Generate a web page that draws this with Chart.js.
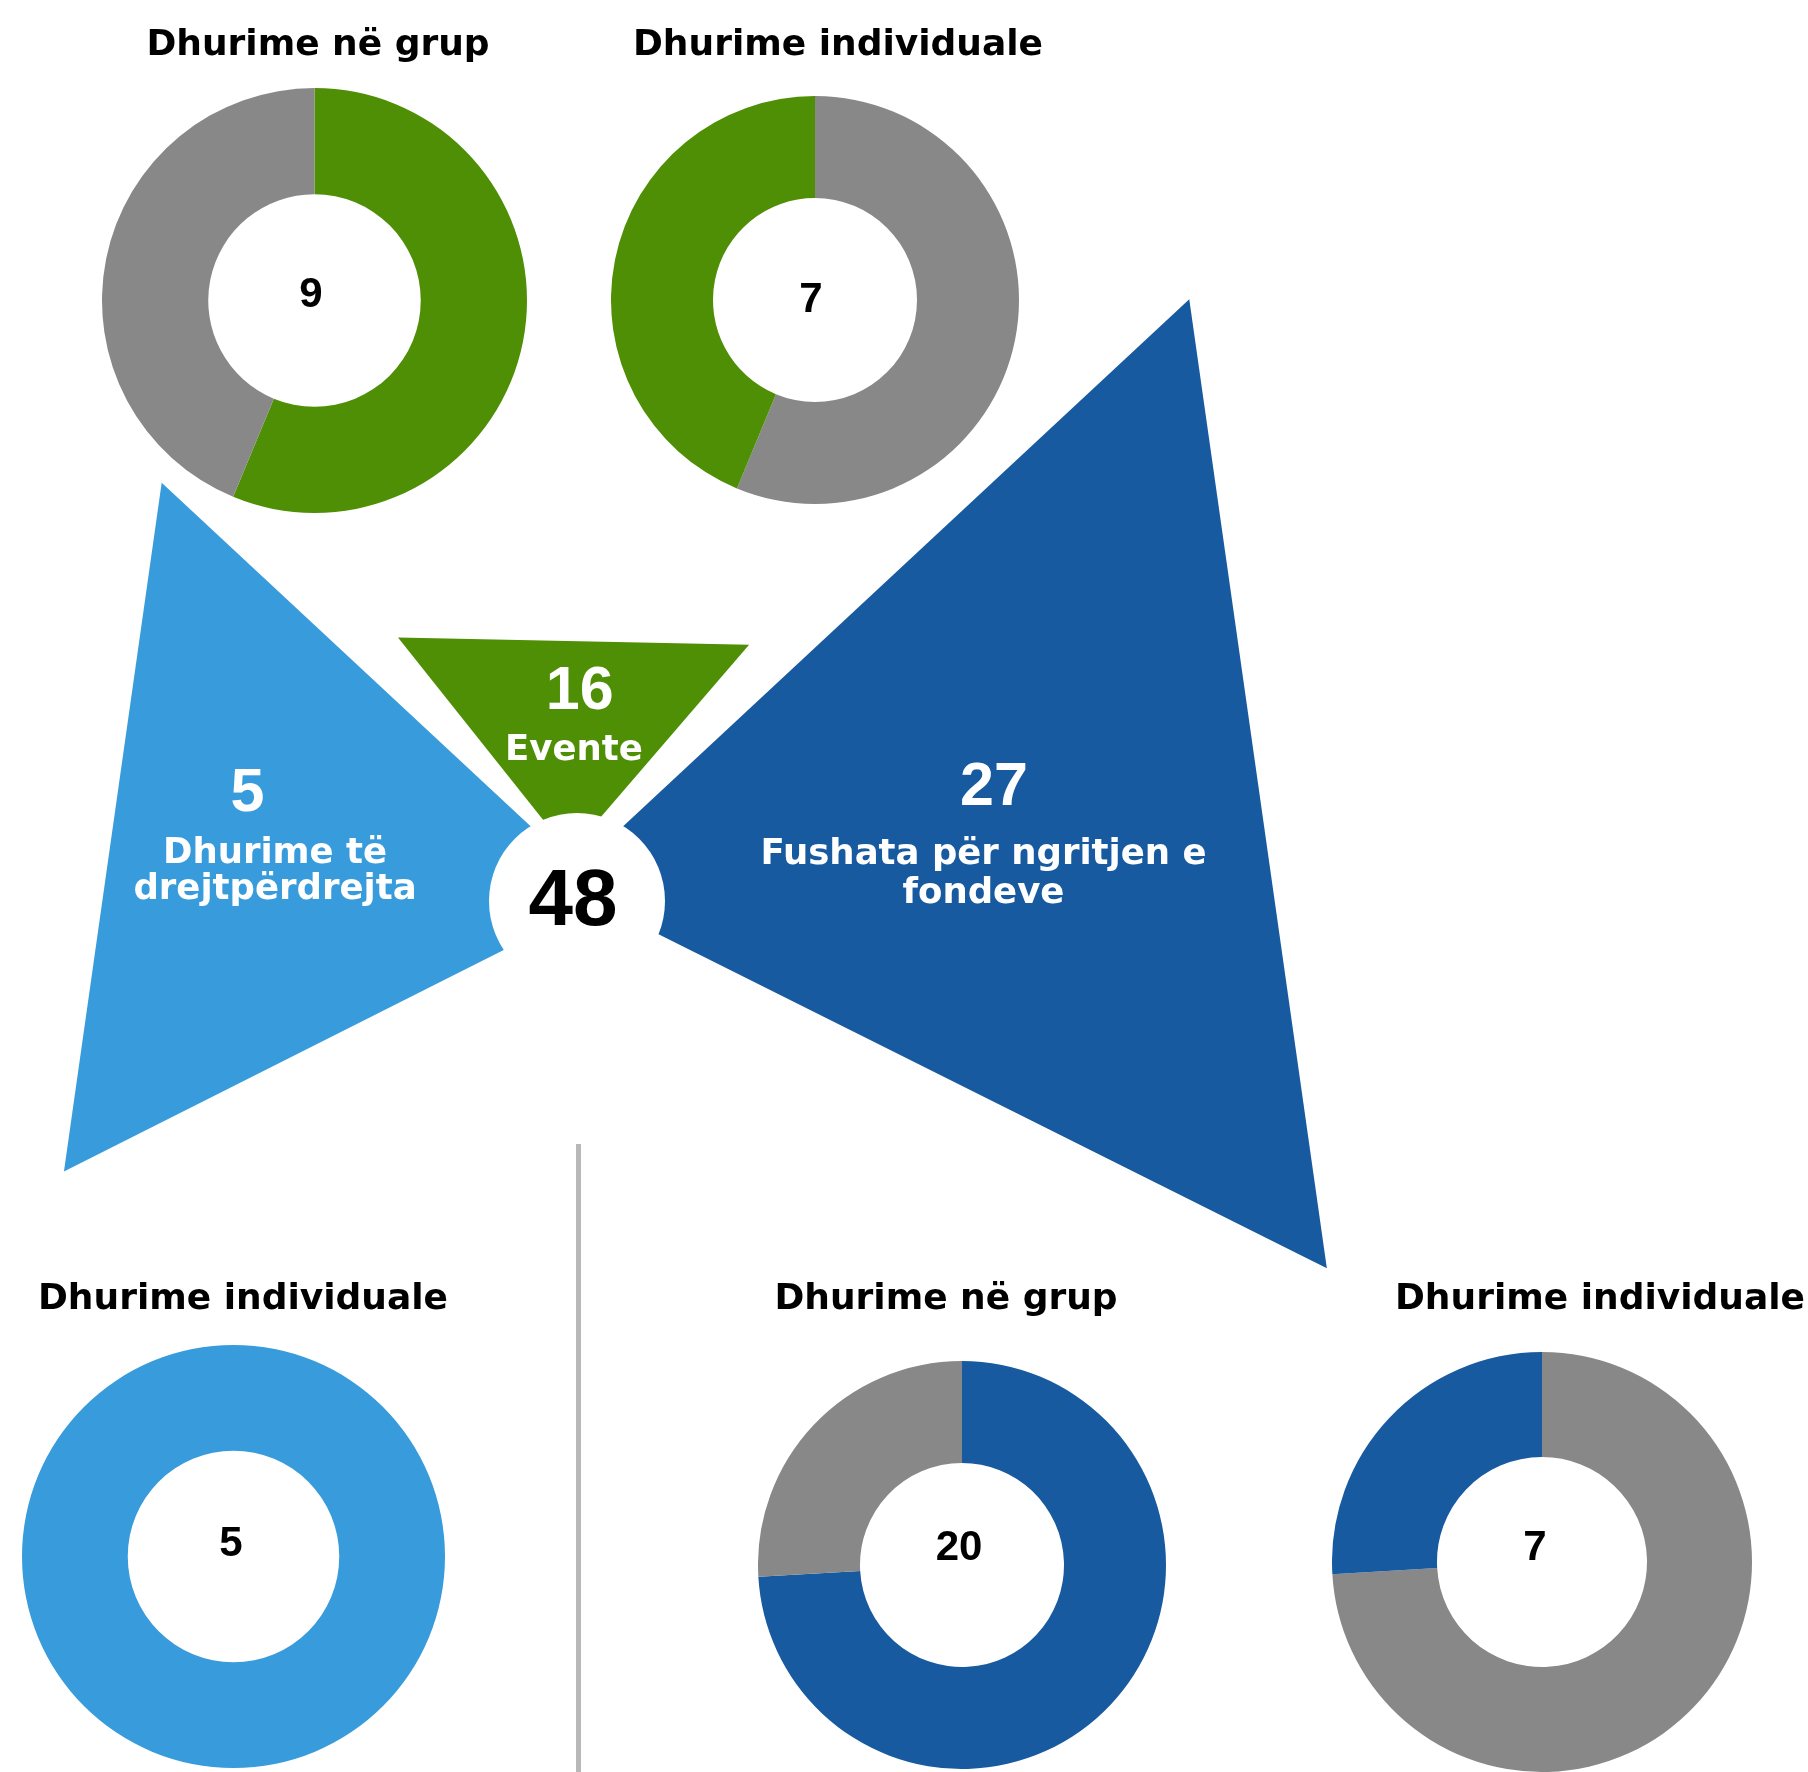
<!DOCTYPE html>
<html>
<head>
<meta charset="utf-8">
<script src="https://cdn.jsdelivr.net/npm/chart.js@4.4.1/dist/chart.umd.min.js"></script>
<style>
  html, body { margin: 0; padding: 0; background: #ffffff; }
  #stage { position: relative; width: 1808px; height: 1772px; overflow: hidden; background: #ffffff; }
  #stage canvas { position: absolute; }
  .lbl { position: absolute; white-space: nowrap; transform: translateX(-50%); }
</style>
</head>
<body>
<div id="stage">
  <canvas id="main" width="1808" height="1772" style="left:0;top:0"></canvas>
</div>
<script>
// ---------------- DATA ----------------
const categories = ['Dhurime të drejtpërdrejta', 'Evente', 'Fushata për ngritjen e fondeve'];
const categoryValues = [5, 16, 27];
const splitLabels = ['Dhurime në grup', 'Dhurime individuale'];
const directSplit = [0, 5];     // group, individual
const eventSplit = [9, 7];      // group, individual
const campaignSplit = [20, 7];  // group, individual

// ---------------- STYLE / LAYOUT ----------------
const COLORS = { green: '#4f8f05', grey: '#888888', light: '#389bdb', dark: '#185a9f' };
const categoryColors = [COLORS.light, COLORS.green, COLORS.dark];

const HUB = { x: 577, y: 901, r: 88 };
// spike geometry: [angle deg clockwise from 12 o'clock, reach px] for tip and outer corners
const spikeGeometry = [
  { tip: [84.0, 30.6],  c1: [315.2, 589.4], c2: [242.2, 580.0] },
  { tip: [351.3, 48.4], c1: [325.8, 318.5], c2: [33.9, 308.6] },
  { tip: [313.3, 23.3], c1: [45.5, 858.4],  c2: [116.1, 835.0] }
];
const spikeLabelLayout = [
  { x: 247.5, valueBaseline: 811.6, nameX: 275,   nameBaseline: 863.3, lineGap: 36, wrap: 310 },
  { x: 579.7, valueBaseline: 709.3, nameX: 574,   nameBaseline: 760,   lineGap: 36, wrap: 310 },
  { x: 994,   valueBaseline: 805,   nameX: 983.5, nameBaseline: 864,   lineGap: 39, wrap: 480 }
];
const hubLabel = { x: 573, baseline: 925 };
const divider = { x: 578.5, y0: 1144, y1: 1772, width: 5, color: '#b8b8b8' };

const donutPanels = [
  { values: eventSplit,    highlight: 0, color: COLORS.green, title: splitLabels[0] },
  { values: eventSplit,    highlight: 1, color: COLORS.green, title: splitLabels[1] },
  { values: directSplit,   highlight: 1, color: COLORS.light, title: splitLabels[1] },
  { values: campaignSplit, highlight: 0, color: COLORS.dark,  title: splitLabels[0] },
  { values: campaignSplit, highlight: 1, color: COLORS.dark,  title: splitLabels[1] }
];
const donutLayout = [
  { cx: 314,   cy: 300.7,  R: 212.5, titleX: 318,  titleY: 55.8, valX: 311,  valY: 307.6 },
  { cx: 815,   cy: 299.5,  R: 204,   titleX: 838,  titleY: 55.8, valX: 811,  valY: 312.7 },
  { cx: 233,   cy: 1556,   R: 211.5, titleX: 243,  titleY: 1309, valX: 231,  valY: 1556.3 },
  { cx: 961.5, cy: 1564.6, R: 204,   titleX: 946,  titleY: 1309, valX: 959,  valY: 1560.7 },
  { cx: 1542,  cy: 1562,   R: 210,   titleX: 1600, titleY: 1309, valX: 1535, valY: 1560.7 }
];

const FONT_TITLE = "bold 36px 'DejaVu Sans'";
const FONT_NAME = "bold 35.5px 'DejaVu Sans'";
const FONT_SPIKE_VAL = "bold 61px 'Liberation Sans'";
const FONT_HUB = "bold 80px 'Liberation Sans'";
const FONT_DONUT_VAL = "bold 42px 'Liberation Sans'";

// ---------------- HELPERS ----------------
const stage = document.getElementById('stage');
const mctx = document.createElement('canvas').getContext('2d');

function polar(angleDeg, reach) {
  const a = angleDeg * Math.PI / 180;
  return { x: HUB.x + reach * Math.sin(a), y: HUB.y - reach * Math.cos(a) };
}
function spikePoints(i) {
  const g = spikeGeometry[i];
  return [polar(g.tip[0], g.tip[1]), polar(g.c1[0], g.c1[1]), polar(g.c2[0], g.c2[1])];
}
function placeText(str, cx, baseline, font, color) {
  mctx.font = font;
  const m = mctx.measureText(str);
  const fs = parseFloat(font.match(/(\d+(\.\d+)?)px/)[1]);
  const a = m.fontBoundingBoxAscent, d = m.fontBoundingBoxDescent;
  const off = (fs - (a + d)) / 2 + a;
  const el = document.createElement('div');
  el.className = 'lbl';
  el.textContent = str;
  el.style.font = font;
  el.style.lineHeight = fs + 'px';
  el.style.color = color;
  el.style.left = cx + 'px';
  el.style.top = (baseline - off) + 'px';
  stage.appendChild(el);
}
function wrapText(str, font, maxW) {
  mctx.font = font;
  const words = str.split(' ');
  const lines = [];
  let cur = '';
  words.forEach(w => {
    const t = cur ? cur + ' ' + w : w;
    if (cur && mctx.measureText(t).width > maxW) { lines.push(cur); cur = w; }
    else cur = t;
  });
  if (cur) lines.push(cur);
  return lines;
}

// ---------------- MAIN (spikes + hub + divider) ----------------
const spikePlugin = {
  id: 'spikes',
  beforeDatasetsDraw(chart) {
    const ctx = chart.ctx;
    chart.data.datasets.forEach((ds, i) => {
      if (!ds.spike) return;
      const pts = chart.getDatasetMeta(i).data;
      ctx.save();
      ctx.beginPath();
      pts.forEach((p, k) => k ? ctx.lineTo(p.x, p.y) : ctx.moveTo(p.x, p.y));
      ctx.closePath();
      ctx.fillStyle = ds.backgroundColor;
      ctx.fill();
      ctx.restore();
    });
  },
  afterDatasetsDraw(chart) {
    const ctx = chart.ctx;
    const sx = chart.scales.x, sy = chart.scales.y;
    const cx = sx.getPixelForValue(HUB.x), cy = sy.getPixelForValue(HUB.y);
    const r = Math.abs(sx.getPixelForValue(HUB.x + HUB.r) - cx);
    ctx.save();
    ctx.beginPath();
    ctx.arc(cx, cy, r, 0, Math.PI * 2);
    ctx.fillStyle = '#ffffff';
    ctx.fill();
    ctx.restore();
  }
};

new Chart(document.getElementById('main'), {
  type: 'scatter',
  data: {
    datasets: [
      ...categories.map((c, i) => ({
        label: c, data: spikePoints(i), spike: true,
        backgroundColor: categoryColors[i], borderColor: categoryColors[i],
        pointRadius: 0, showLine: false
      })),
      {
        label: 'divider',
        data: [{ x: divider.x, y: divider.y0 }, { x: divider.x, y: divider.y1 }],
        showLine: true, borderColor: divider.color, borderWidth: divider.width,
        pointRadius: 0, fill: false
      }
    ]
  },
  options: {
    responsive: false, animation: false, events: [],
    layout: { padding: 0 },
    scales: {
      x: { type: 'linear', min: 0, max: 1808, display: false },
      y: { type: 'linear', min: 0, max: 1772, reverse: true, display: false }
    },
    plugins: { legend: { display: false }, tooltip: { enabled: false } }
  },
  plugins: [spikePlugin]
});

// ---------------- DONUTS ----------------
donutPanels.forEach((p, i) => {
  const L = donutLayout[i];
  const size = Math.round(L.R * 2);
  const cv = document.createElement('canvas');
  cv.width = size; cv.height = size;
  cv.style.left = (L.cx - size / 2) + 'px';
  cv.style.top = (L.cy - size / 2) + 'px';
  stage.appendChild(cv);
  const colors = p.values.map((v, k) => k === p.highlight ? p.color : COLORS.grey);
  new Chart(cv, {
    type: 'doughnut',
    data: {
      labels: splitLabels,
      datasets: [{ data: p.values, backgroundColor: colors, borderWidth: 0, hoverOffset: 0, offset: 0 }]
    },
    options: {
      responsive: false, animation: false, events: [], cutout: '50%',
      layout: { padding: 0 },
      plugins: { legend: { display: false }, tooltip: { enabled: false } }
    }
  });
});

// ---------------- TEXT ----------------
donutPanels.forEach((p, i) => {
  const L = donutLayout[i];
  placeText(p.title, L.titleX, L.titleY, FONT_TITLE, '#000000');
  placeText(String(p.values[p.highlight]), L.valX, L.valY, FONT_DONUT_VAL, '#000000');
});
categories.forEach((c, i) => {
  const L = spikeLabelLayout[i];
  placeText(String(categoryValues[i]), L.x, L.valueBaseline, FONT_SPIKE_VAL, '#ffffff');
  wrapText(c, FONT_NAME, L.wrap).forEach((line, k) => {
    placeText(line, L.nameX, L.nameBaseline + k * L.lineGap, FONT_NAME, '#ffffff');
  });
});
placeText(String(categoryValues.reduce((a, b) => a + b, 0)), hubLabel.x, hubLabel.baseline, FONT_HUB, '#000000');
</script>
</body>
</html>
